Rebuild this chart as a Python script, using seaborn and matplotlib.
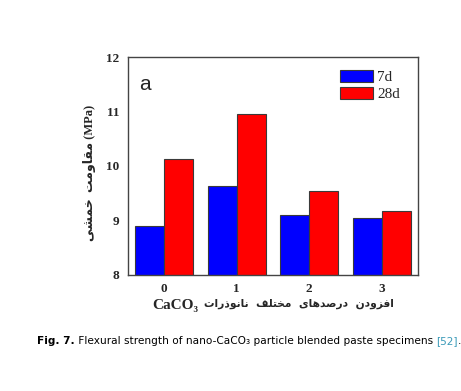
import matplotlib
matplotlib.use("Agg")
import matplotlib.pyplot as plt
import matplotlib.patches as mpatches
import seaborn as sns
import pandas as pd

# values
doses = ["0", "1", "2", "3"]
strength_7d = [8.90, 9.64, 9.11, 9.04]
strength_28d = [10.13, 10.96, 9.55, 9.18]
ages = ["7d", "28d"]
colors = ["#0000ff", "#ff0000"]
y_ticks = [8, 9, 10, 11, 12]

# Persian labels: matplotlib draws characters left to right without bidi or
# letter joining, so they are written as joined presentation forms in visual order.
# "مقاومت خمشی (MPa)"
ylabel_fa = "\uFEF0\uFEB8\uFEE4\uFEA7  \uFE96\uFEE3\uFEED\uFE8E\uFED8\uFEE3 (MPa)"
# "افزودن درصدهای مختلف نانوذرات"
xlabel_fa = ("\uFE95\uFE8D\uFEAD\uFEAB\uFEEE\uFEE7\uFE8E\uFEE7  "
             "\uFED2\uFEE0\uFE98\uFEA8\uFEE3  "
             "\uFEEF\uFE8E\uFEEB\uFEAA\uFEBB\uFEAD\uFEA9  "
             "\uFEE5\uFEA9\uFEED\uFEB0\uFED3\uFE8D")
xlabel_chem = "CaCO\u2083"

df = pd.DataFrame({
    "dose": doses * 2,
    "strength": strength_7d + strength_28d,
    "age": [ages[0]] * len(doses) + [ages[1]] * len(doses),
})

sns.set_style("white")
serif = ["Liberation Serif", "DejaVu Sans"]

fig = plt.figure(figsize=(4.61, 3.91), dpi=100)
ax = fig.add_axes([0.2777, 0.2967, 0.629, 0.5575])

sns.barplot(data=df, x="dose", y="strength", hue="age", order=doses,
            hue_order=ages, palette=colors, saturation=1, width=0.8,
            edgecolor="#3a3a3a", linewidth=0.8, errorbar=None, ax=ax)

ax.set_ylim(8, 12)
ax.set_xlim(-0.5, 3.5)
ax.set_yticks(y_ticks)
ax.tick_params(length=0, pad=6, labelsize=9.5, labelfontfamily="Liberation Serif")
for lab in ax.get_xticklabels() + ax.get_yticklabels():
    lab.set_fontweight("bold")
ax.set_xlabel("")
ax.set_ylabel("")
for sp in ax.spines.values():
    sp.set_color("#444444")
    sp.set_linewidth(1.0)

handles = [mpatches.Patch(facecolor=c, edgecolor="#3a3a3a", linewidth=0.8) for c in colors]
ax.legend(handles, ages, loc="upper left", bbox_to_anchor=(340 / 461, 1 - 70 / 391),
          bbox_transform=fig.transFigure, frameon=False,
          prop={"family": serif, "size": 11}, handlelength=2.15, handleheight=0.8,
          labelspacing=0.2, handletextpad=0.3, borderpad=0, borderaxespad=0)

ax.text(0.04, 0.875, "a", transform=ax.transAxes, fontsize=15,
        family="Liberation Sans", ha="left", va="center")

fig.text(89 / 461, 1 - 173 / 391, ylabel_fa, rotation=90, ha="center", va="center",
         family=serif, fontweight="bold", fontsize=9)

# x label: chemical formula on the left, Persian words to its right
fig.text(152 / 461, 1 - 305 / 391, xlabel_chem, ha="left", va="center",
         family="Liberation Serif", fontweight="bold", fontsize=11)
fig.text(204 / 461, 1 - 304 / 391, xlabel_fa, ha="left", va="center",
         family="DejaVu Sans", fontweight="bold", fontsize=7.7)

# caption under the chart
fig.canvas.draw()
renderer = fig.canvas.get_renderer()
cap_y = 1 - 341 / 391
pieces = [("Fig. 7.", "bold", "black"),
          (" Flexural strength of nano-CaCO\u2083 particle blended paste specimens ", "normal", "black"),
          ("[52]", "normal", "#3a9ab8"),
          (".", "normal", "black")]
x = 37 / 461
for txt, w, c in pieces:
    t = fig.text(x, cap_y, txt, ha="left", va="center", fontsize=7.6,
                 family="DejaVu Sans", fontweight=w, color=c)
    bb = t.get_window_extent(renderer)
    x += bb.width / fig.bbox.width

fig.savefig("out.png", dpi=100)
